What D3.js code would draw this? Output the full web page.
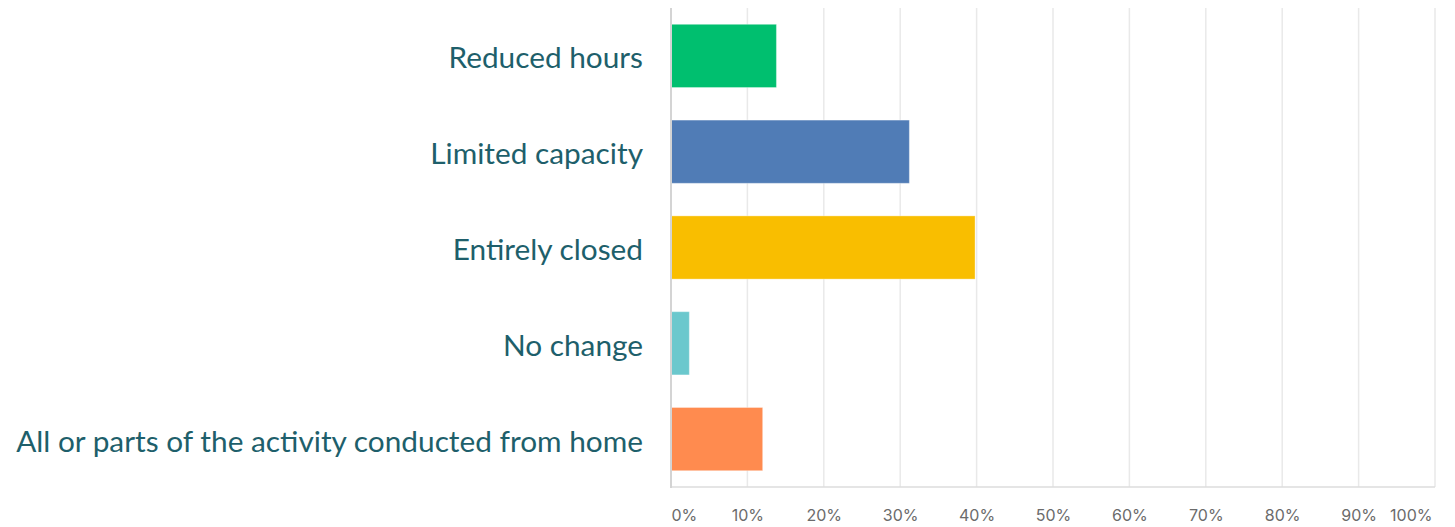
<!DOCTYPE html>
<html lang="en">
<head>
<meta charset="UTF-8">
<title>Impact on activity</title>
<script src="https://d3js.org/d3.v7.min.js"></script>
<style>
    body { margin: 0; background: #fff; }
    .cat { font-family: Lato, sans-serif; font-size: 29.8px; fill: #1e5f6b; }
    .tick text { font-family: Inter, "Open Sans", sans-serif; font-size: 16px; fill: #6b6b6b; }
</style>
</head>
<body>
<div id="chart"></div>
<script>
// categories and values (% of responses)
const categories = ["Reduced hours", "Limited capacity", "Entirely closed", "No change",
                    "All or parts of the activity conducted from home"];
const values = [13.8, 31.2, 39.8, 2.4, 12.0];
const colors = ["#00bf6f", "#507cb6", "#f9be00", "#6bc8cd", "#ff8b4f"];
const ticks = [0, 10, 20, 30, 40, 50, 60, 70, 80, 90, 100];

const W = 1455, H = 527;
const margin = {top: 8, right: 20, bottom: 40, left: 671};

const svg = d3.select("#chart").append("svg")
    .attr("width", W).attr("height", H);

const x = d3.scaleLinear().domain([0, 100]).range([margin.left, 1435]);
const y = d3.scaleBand().domain(categories).range([margin.top, 487]).paddingInner(0.34).paddingOuter(0.17);

// gridlines
svg.append("g").selectAll("line").data(ticks.slice(1)).join("line")
    .attr("x1", d => x(d)).attr("x2", d => x(d))
    .attr("y1", margin.top).attr("y2", 487)
    .attr("stroke", "#e9e9e9").attr("stroke-width", 1.5);

// bottom axis line
svg.append("line").attr("x1", x(0)).attr("x2", x(100)).attr("y1", 487).attr("y2", 487)
    .attr("stroke", "#dcdcdc").attr("stroke-width", 1.5);

// bars
svg.append("g").selectAll("rect").data(categories).join("rect")
    .attr("x", x(0))
    .attr("y", d => y(d))
    .attr("width", (d, i) => x(values[i]) - x(0))
    .attr("height", y.bandwidth())
    .attr("fill", (d, i) => colors[i])
    .attr("stroke", "#fff").attr("stroke-opacity", 0.35).attr("stroke-width", 1);

// left axis line
svg.append("line").attr("x1", x(0)).attr("x2", x(0)).attr("y1", margin.top).attr("y2", 488)
    .attr("stroke", "#d4d4d4").attr("stroke-width", 2);

// category labels
svg.append("g").selectAll("text").data(categories).join("text")
    .attr("class", "cat")
    .attr("x", 643)
    .attr("y", d => y(d) + y.bandwidth() / 2)
    .attr("dy", "0.42em")
    .attr("text-anchor", "end")
    .text(d => d);

// x axis tick labels
const xAxis = d3.axisBottom(x).tickValues(ticks).tickFormat(d => d + "%").tickSize(0).tickPadding(0);
const gx = svg.append("g").attr("transform", "translate(0,510)").call(xAxis);
gx.select(".domain").remove();
gx.selectAll(".tick text")
    .attr("text-anchor", d => d === 0 ? "start" : d === 100 ? "end" : "middle")
    .attr("dx", d => d === 100 ? -3 : 0);
</script>
</body>
</html>
